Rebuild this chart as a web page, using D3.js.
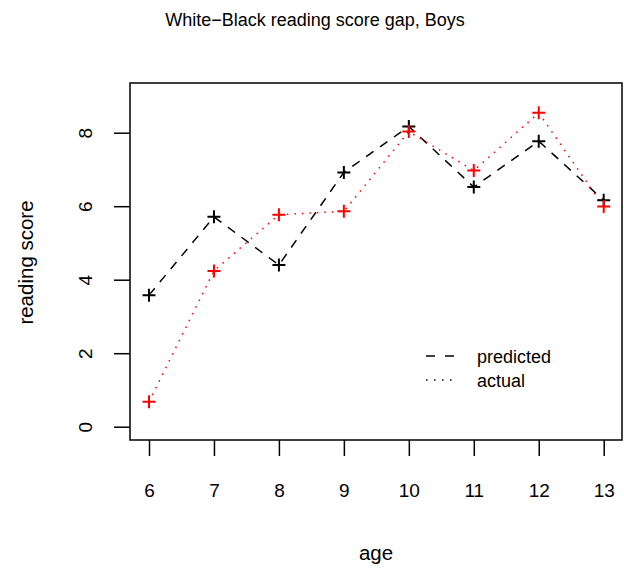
<!DOCTYPE html>
<html>
<head>
<meta charset="utf-8">
<script src="https://cdn.jsdelivr.net/npm/d3@7"></script>
<style>
  body { margin: 0; background: #fff; }
  text { font-family: "Liberation Sans", Arial, sans-serif; fill: #000; }
</style>
</head>
<body>
<svg id="chart" width="624" height="570"></svg>
<script>
// == Daten ==
const ages = [6, 7, 8, 9, 10, 11, 12, 13];
const predicted = [3.58, 5.71, 4.40, 6.92, 8.17, 6.52, 7.77, 6.16];
const actual = [0.68, 4.24, 5.77, 5.86, 8.03, 6.97, 8.54, 5.99];
const yTicks = [0, 2, 4, 6, 8];

const svg = d3.select('#chart');
const box = {left: 130, right: 622, top: 83, bottom: 440};
const FONT = '"Liberation Sans", Arial, sans-serif';

// Skalen
const x = d3.scaleLinear().domain([6, 13]).range([149, 603.7]);
const y = d3.scaleLinear().domain([0, 8]).range([426.7, 132.7]);

// Rahmen
svg.append('rect')
    .attr('x', box.left).attr('y', box.top)
    .attr('width', box.right - box.left).attr('height', box.bottom - box.top)
    .attr('fill', 'none').attr('stroke', '#000').attr('stroke-width', 1.5);

// Achsen
const xAxis = svg.append('g')
    .attr('transform', `translate(0,${box.bottom})`)
    .call(d3.axisBottom(x).tickValues(ages).tickFormat(d3.format('d')).tickSize(16).tickPadding(27.5));
const yAxis = svg.append('g')
    .attr('transform', `translate(${box.left},0)`)
    .call(d3.axisLeft(y).tickValues(yTicks).tickSize(16));
[xAxis, yAxis].forEach(a => {
    a.select('.domain').remove();
    a.selectAll('line').attr('stroke', '#000').attr('stroke-width', 1.5);
    a.selectAll('text').attr('font-size', 19).attr('font-family', FONT);
});
// y-Beschriftung gedreht wie in R
yAxis.selectAll('.tick text')
    .attr('x', null).attr('dy', null)
    .attr('transform', 'translate(-45,0) rotate(-90)')
    .attr('text-anchor', 'middle')
    .attr('dy', '0.35em');

// Linien
const line = d3.line().x((d, i) => x(ages[i])).y(d => y(d));
svg.append('path').datum(predicted).attr('d', line)
    .attr('fill', 'none').attr('stroke', '#000').attr('stroke-width', 1.5)
    .attr('stroke-dasharray', '9,8');
svg.append('path').datum(actual).attr('d', line)
    .attr('fill', 'none').attr('stroke', '#ff0000').attr('stroke-width', 1.5)
    .attr('stroke-dasharray', '1.5,6');

// Plus-Marker
function plus(data, color) {
    const s = 6.5;
    svg.append('g').selectAll('path').data(data).enter().append('path')
        .attr('d', (d, i) => {
            const cx = x(ages[i]), cy = y(d);
            return `M${cx - s},${cy}H${cx + s}M${cx},${cy - s}V${cy + s}`;
        })
        .attr('stroke', color).attr('stroke-width', 2).attr('fill', 'none');
}
plus(predicted, '#000');
plus(actual, '#ff0000');

// Legende
const legend = [
    {label: 'predicted', dash: '9,10'},
    {label: 'actual', dash: '1.5,6.5'}
];
legend.forEach((l, i) => {
    const ly = 356 + i * 24;
    svg.append('line').attr('x1', 426).attr('x2', 455).attr('y1', ly).attr('y2', ly)
        .attr('stroke', '#000').attr('stroke-width', 1.5).attr('stroke-dasharray', l.dash);
    svg.append('text').attr('x', 477).attr('y', ly + 6.5)
        .attr('font-size', 18).text(l.label);
});

// Titel und Achsentitel
svg.append('text').attr('x', 315).attr('y', 26)
    .attr('text-anchor', 'middle').attr('font-size', 18)
    .text('White\u2212Black reading score gap, Boys');
svg.append('text').attr('x', 376).attr('y', 560)
    .attr('text-anchor', 'middle').attr('font-size', 20.5).text('age');
svg.append('text').attr('transform', `translate(33,${(box.top + box.bottom) / 2 + 1}) rotate(-90)`)
    .attr('text-anchor', 'middle').attr('font-size', 20.5)
    .text('reading score');
</script>
</body>
</html>
